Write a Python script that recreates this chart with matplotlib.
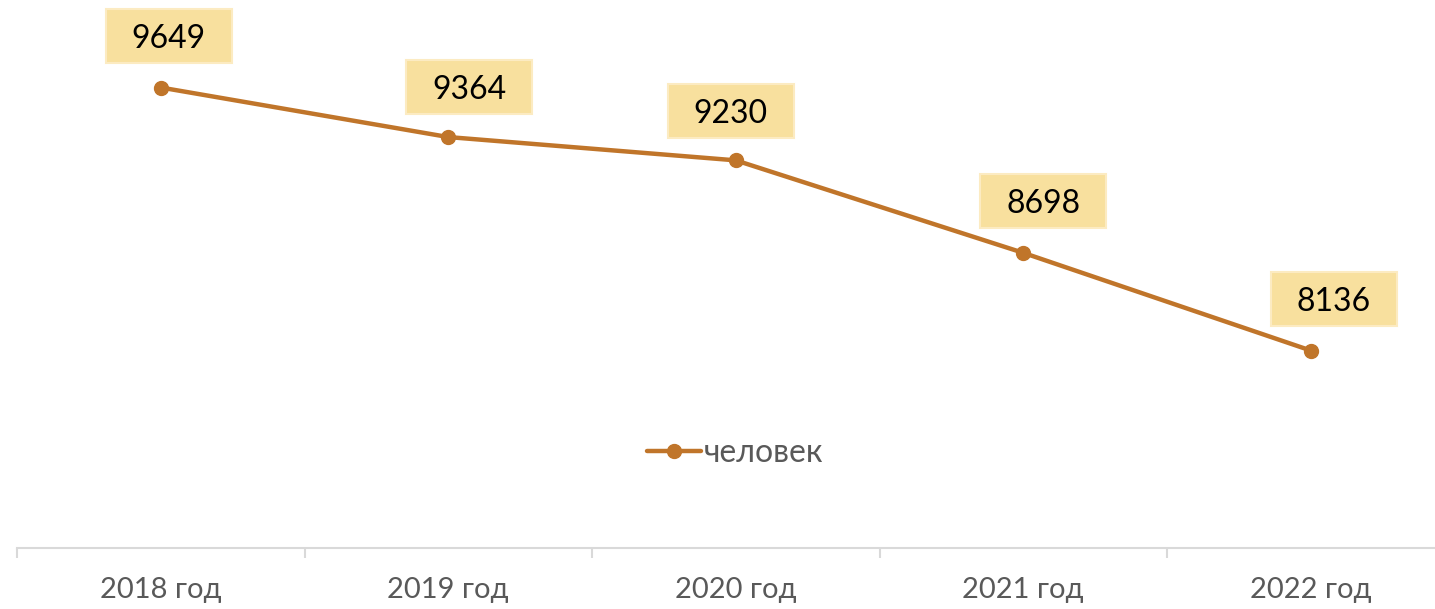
import matplotlib
matplotlib.use("Agg")
import matplotlib.pyplot as plt
from matplotlib.ticker import FixedLocator
from matplotlib.patches import Rectangle
from matplotlib import transforms

categories = ["2018 год", "2019 год", "2020 год", "2021 год", "2022 год"]
values = [9649, 9364, 9230, 8698, 8136]
series_name = "человек"

W, H = 1435, 609
fig = plt.figure(figsize=(W / 100, H / 100), dpi=100)
plt.rcParams['font.family'] = ['Lato', 'DejaVu Sans']

left = 17 / W
width = (287.5 * 5) / W
bottom = (H - 548) / H
height = (548 - 26.5) / H
ax = fig.add_axes([left, bottom, width, height])

line_color = '#C0752A'
x = list(range(len(categories)))
ax.plot(x, values, color=line_color, lw=3.2, marker='o', markersize=10,
        label=series_name, solid_capstyle='round', zorder=3)

ax.set_xlim(-0.5, len(categories) - 0.5)
ax.set_ylim(7000, 10000)

# label box centre offsets from the point, in pixels (y up)
offsets = [(8, 52), (21, 50), (-5, 49), (20, 52), (23, 52)]
bw, bh = 126, 54
for xi, v, (dx, dy) in zip(x, values, offsets):
    tr = transforms.IdentityTransform() + transforms.ScaledTranslation(xi, v, ax.transData)
    rect = Rectangle((dx - bw / 2, dy - bh / 2), bw, bh, transform=tr,
                     fc='#F8E09E', ec='#FCEBC2', lw=1.5, clip_on=False, zorder=4)
    ax.add_patch(rect)
    ax.annotate(str(v), (xi, v), xytext=(dx * 0.72, dy * 0.72), textcoords='offset points',
                ha='center', va='center_baseline', fontsize=23, color='black',
                annotation_clip=False, zorder=5)

for s in ['top', 'right', 'left']:
    ax.spines[s].set_visible(False)
ax.spines['bottom'].set_color('#D9D9D9')
ax.spines['bottom'].set_linewidth(1.5)
ax.set_yticks([])
ax.set_xticks(x)
ax.set_xticklabels(categories, fontsize=21, color='#595959')
ax.tick_params(axis='x', which='major', length=0, pad=21)
ax.xaxis.set_minor_locator(FixedLocator([i - 0.5 for i in range(len(categories) + 1)]))
ax.tick_params(axis='x', which='minor', length=7, color='#D9D9D9', width=1.5)

leg = fig.legend(loc='center', bbox_to_anchor=(735 / W, 1 - 453 / H), frameon=False,
                 fontsize=23, handlelength=1.7, handletextpad=0.1, labelcolor='#595959')

fig.savefig('out.png', dpi=100)
